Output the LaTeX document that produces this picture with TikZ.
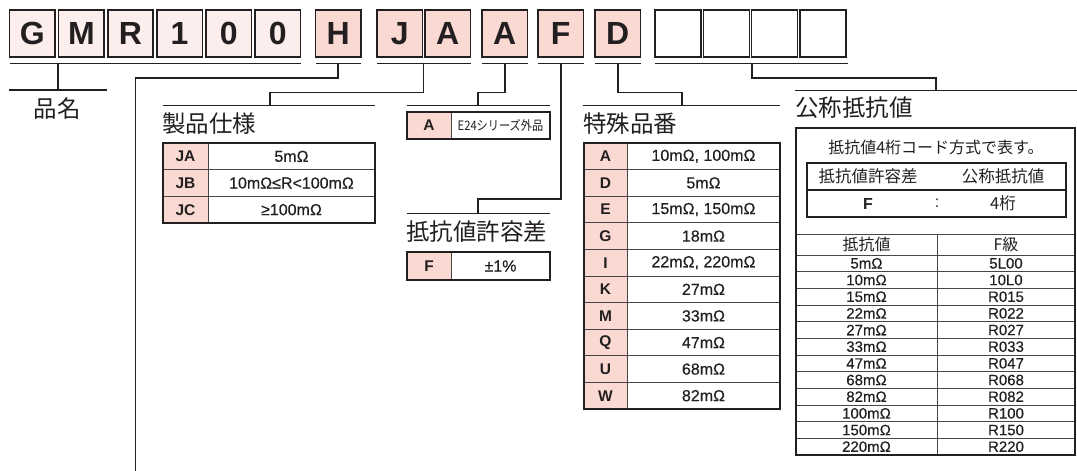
\documentclass[tikz,border=0pt]{standalone}
\usepackage{fontspec}
\setmainfont{Liberation Sans}
\newfontfamily\jp{Noto Sans CJK JP}
\newfontfamily\medsans[FakeBold=0.35]{Liberation Sans}
\definecolor{ink}{HTML}{231F20}
\definecolor{pinkA}{HTML}{F9D9D2}
\definecolor{pinkB}{HTML}{FCEEEC}
\definecolor{gridc}{HTML}{4A4647}
\tikzset{
  topbox/.style={draw=ink, line width=1.6pt, minimum width=45.5pt, minimum height=47pt,
    anchor=north west, inner sep=0pt, outer sep=0pt, text=ink,
    font=\fontsize{32}{32}\selectfont\bfseries},
  bar/.style={draw=ink, line width=1.8pt},
  conn/.style={draw=ink, line width=1.8pt},
  keycell/.style={draw=gridc, line width=0.8pt, fill=pinkA, anchor=north west, inner sep=0pt,
    outer sep=0pt, text=ink, font=\fontsize{15.5}{16}\selectfont\bfseries},
  valcell/.style={draw=gridc, line width=0.8pt, fill=white, anchor=north west, inner sep=0pt,
    outer sep=0pt, text=ink, font=\medsans\fontsize{16}{16}\selectfont},
  lowcell/.style={draw=gridc, line width=0.8pt, anchor=north west, inner sep=0pt,
    outer sep=0pt, text=ink, font=\medsans\fontsize{15}{15}\selectfont},
  tframe/.style={draw=ink, line width=1.6pt},
  heading/.style={font=\jp\fontsize{23.5}{24}\selectfont, anchor=west, inner sep=0pt, text=ink},
  jpsmall/.style={font=\jp\fontsize{16.5}{17}\selectfont, inner sep=0pt, text=ink}
}
\begin{document}
\begin{tikzpicture}[x=1pt,y=-1pt]
\useasboundingbox[fill=white] (0,0) rectangle (1077,471);

% ---------- top code boxes ----------
\foreach \c/\xx [count=\i] in {G/9.5,M/58.6,R/107.7,1/156.8,0/205.9,0/255}
  \node[topbox, fill=pinkB] (g\i) at (\xx,10) {\c};
\node[topbox, fill=pinkA] (h)  at (315.5,10) {H};
\node[topbox, fill=pinkA] (j)  at (377,10) {J};
\node[topbox, fill=pinkA] (a1) at (425,10) {A};
\node[topbox, fill=pinkA] (a2) at (482,10) {A};
\node[topbox, fill=pinkA] (f)  at (538,10) {F};
\node[topbox, fill=pinkA] (d)  at (595,10) {D};
\foreach \xx [count=\i] in {655,703.3,751.6,799.9}
  \node[topbox, fill=white, minimum width=46pt] (e\i) at (\xx,10) {};

% ---------- bars under groups ----------
\coordinate (b0l) at (9.5,63.5);  \coordinate (b0r) at (300.5,63.5);
\coordinate (bHl) at (315.5,63.5); \coordinate (bHr) at (361,63.5);
\coordinate (bJl) at (377,63.5);  \coordinate (bJr) at (470.5,63.5);
\coordinate (bAl) at (482,63.5);  \coordinate (bAr) at (527.5,63.5);
\coordinate (bFl) at (538,63.5);  \coordinate (bFr) at (583.5,63.5);
\coordinate (bDl) at (595,63.5);  \coordinate (bDr) at (640.5,63.5);
\coordinate (bEl) at (655,63.5);  \coordinate (bEr) at (848,63.5);
\foreach \b in {0,H,J,A,F,D,E}
  \draw[bar] (b\b l) -- (b\b r);

% ---------- connectors ----------
% product name
\coordinate (s0) at (58,63.5); \coordinate (k0) at (58,90);
\coordinate (l0a) at (9,90);   \coordinate (l0b) at (107,90);
\draw[conn] (s0) -- (k0);
\draw[conn] (l0a) -- (l0b);
\node[font=\jp\fontsize{23.5}{24}\selectfont, inner sep=0pt, text=ink] (pname) at (57.5,109) {品名};

% H : long line down
\coordinate (sH) at (338,63.5); \coordinate (kH1) at (338,78);
\coordinate (kH2) at (135.5,78); \coordinate (kH3) at (135.5,471);
\draw[conn] (sH) -- (kH1) -- (kH2) -- (kH3);

% JA : product spec
\coordinate (sJ) at (423.5,63.5); \coordinate (kJ1) at (423.5,92.5);
\coordinate (kJ2) at (270,92.5);  \coordinate (kJ3) at (270,105.5);
\coordinate (lJa) at (163,105.5); \coordinate (lJb) at (375,105.5);
\draw[conn] (sJ) -- (kJ1) -- (kJ2) -- (kJ3);
\draw[conn] (lJa) -- (lJb);

% A : E24
\coordinate (sA) at (505,63.5); \coordinate (kA1) at (505,92.5);
\coordinate (kA2) at (478,92.5); \coordinate (kA3) at (478,105.5);
\coordinate (lAa) at (407,105.5); \coordinate (lAb) at (550,105.5);
\draw[conn] (sA) -- (kA1) -- (kA2) -- (kA3);
\draw[conn] (lAa) -- (lAb);

% F : tolerance
\coordinate (sF) at (561,63.5); \coordinate (kF1) at (561,199);
\coordinate (kF2) at (478,199); \coordinate (kF3) at (478,213.5);
\coordinate (lFa) at (407,213.5); \coordinate (lFb) at (550,213.5);
\draw[conn] (sF) -- (kF1) -- (kF2) -- (kF3);
\draw[conn] (lFa) -- (lFb);

% D : special number
\coordinate (sD) at (618,63.5); \coordinate (kD1) at (618,92.5);
\coordinate (kD2) at (682,92.5); \coordinate (kD3) at (682,105.5);
\coordinate (lDa) at (583,105.5); \coordinate (lDb) at (780,105.5);
\draw[conn] (sD) -- (kD1) -- (kD2) -- (kD3);
\draw[conn] (lDa) -- (lDb);

% empty : nominal resistance
\coordinate (sE) at (752,63.5); \coordinate (kE1) at (752,78);
\coordinate (kE2) at (936,78); \coordinate (kE3) at (936,90.5);
\coordinate (lEa) at (795,90.5); \coordinate (lEb) at (1077,90.5);
\draw[conn] (sE) -- (kE1) -- (kE2) -- (kE3);
\draw[conn] (lEa) -- (lEb);

% ---------- headings ----------
\node[heading] (hSpec) at (162,124) {製品仕様};
\node[heading] (hTol)  at (406,232) {抵抗値許容差};
\node[heading] (hSp)   at (583,124) {特殊品番};
\node[heading] (hNom)  at (795,108) {公称抵抗値};

% ---------- table: product spec ----------
\foreach \k/\v [count=\i from 0] in {JA/5mΩ, JB/10mΩ≤R<100mΩ, JC/≥100mΩ}{
  \node[keycell, minimum width=45pt, minimum height=26.67pt] (t1k\i) at (163,143+26.67*\i) {\k};
  \node[valcell, minimum width=167pt, minimum height=26.67pt] (t1v\i) at (208,143+26.67*\i) {\v};
}
\draw[tframe] (t1k0.north west) rectangle (t1v2.south east);

% ---------- table: E24 ----------
\node[keycell, minimum width=44pt, minimum height=27pt] (t2k) at (407,112) {A};
\node[valcell, minimum width=99pt, minimum height=27pt] (t2v) at (451,112)
  {\jp\fontsize{13}{13}\selectfont\scalebox{0.86}[1]{E24シリーズ外品}};
\draw[tframe] (t2k.north west) rectangle (t2v.south east);

% ---------- table: tolerance ----------
\node[keycell, minimum width=44pt, minimum height=28pt] (t3k) at (407,252) {F};
\node[valcell, minimum width=99pt, minimum height=28pt] (t3v) at (451,252) {±1\%};
\draw[tframe] (t3k.north west) rectangle (t3v.south east);

% ---------- table: special number ----------
\foreach \k/\v [count=\i from 0] in {A/{10mΩ, 100mΩ}, D/5mΩ, E/{15mΩ, 150mΩ}, G/18mΩ,
    I/{22mΩ, 220mΩ}, K/27mΩ, M/33mΩ, Q/47mΩ, U/68mΩ, W/82mΩ}{
  \node[keycell, minimum width=43pt, minimum height=26.6pt] (t4k\i) at (584,143+26.6*\i) {\k};
  \node[valcell, minimum width=153pt, minimum height=26.6pt] (t4v\i) at (627,143+26.6*\i) {\v};
}
\draw[tframe] (t4k0.north west) rectangle (t4v9.south east);

% ---------- table: nominal resistance ----------
\node[tframe, fill=white, minimum width=279pt, minimum height=327pt, anchor=north west,
  inner sep=0pt, outer sep=0pt] (t5) at (796,128) {};
\node[jpsmall, font=\jp\fontsize{16}{16}\selectfont] (t5h) at (936,147) {抵抗値4桁コード方式で表す。};
\node[draw=ink, line width=1.4pt, anchor=north west, minimum width=130pt, minimum height=27pt,
  inner sep=0pt, outer sep=0pt] (ib1) at (807,163) {};
\node[draw=ink, line width=1.4pt, anchor=north west, minimum width=129pt, minimum height=27pt,
  inner sep=0pt, outer sep=0pt] (ib2) at (937,163) {};
\node[draw=ink, line width=1.4pt, anchor=north west, minimum width=259pt, minimum height=27pt,
  inner sep=0pt, outer sep=0pt] (ib3) at (807,190) {};
\draw[draw=white, line width=2pt] ([yshift=-1.2pt]ib1.north east) -- ([yshift=1.2pt]ib1.south east);
\node[jpsmall] (ih1) at (868,176.5) {抵抗値許容差};
\node[jpsmall] (ih2) at (1003,176.5) {公称抵抗値};
\node[inner sep=0pt, text=ink, font=\fontsize{16}{16}\selectfont\bfseries] (iv1) at (868,203.5) {F};
\node[inner sep=0pt, text=ink, font=\fontsize{16}{16}\selectfont] (iv2) at (937,203.5) {:};
\node[jpsmall] (iv3) at (1003,203.5) {4桁};
\draw[tframe, line width=1.4pt] (ib1.north west) rectangle (ib3.south east);

\node[lowcell, minimum width=141pt, minimum height=21pt] (lh1) at (796,234) {};
\node[lowcell, minimum width=138pt, minimum height=21pt] (lh2) at (937,234) {};
\node[jpsmall, font=\jp\fontsize{16}{16}\selectfont] (lh1t) at (lh1.center) {抵抗値};
\node[jpsmall, font=\jp\fontsize{16}{16}\selectfont] (lh2t) at (lh2.center) {F級};
\foreach \r/\c [count=\i from 0] in {5mΩ/5L00, 10mΩ/10L0, 15mΩ/R015, 22mΩ/R022, 27mΩ/R027,
    33mΩ/R033, 47mΩ/R047, 68mΩ/R068, 82mΩ/R082, 100mΩ/R100, 150mΩ/R150, 220mΩ/R220}{
  \node[lowcell, minimum width=141pt, minimum height=16.67pt] (lr\i) at (796,255+16.67*\i) {\r};
  \node[lowcell, minimum width=138pt, minimum height=16.67pt] (lc\i) at (937,255+16.67*\i) {\c};
}
\draw[tframe] (t5.north west) rectangle (t5.south east);
\end{tikzpicture}
\end{document}
